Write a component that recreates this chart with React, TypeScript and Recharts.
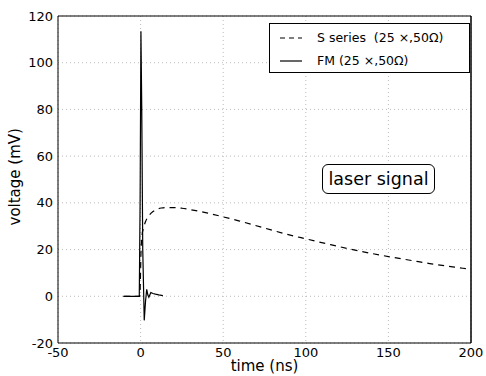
import React from 'react';
import { LineChart, Line, XAxis, YAxis, CartesianGrid, ReferenceLine } from 'recharts';

// time axis in ns, voltage in mV
const sTime = [-10, -0.5, 0.3, 1, 1.5, 3, 5, 7.5, 10, 12.5, 15, 20, 25, 30, 40, 50, 60, 75, 90, 100, 115, 125, 140, 150, 165, 175, 190, 200];
const sVolt = [0, 0, 20, 27, 28.5, 32, 34.5, 36.3, 37.3, 37.8, 38, 38, 37.7, 37.1, 35.7, 34, 32.2, 29.2, 26.3, 24.6, 22.1, 20.5, 18.3, 17, 15.2, 14, 12.5, 11.5];

const fmTime = [-10.5, -0.8, -0.3, 0.2, 0.7, 1.3, 2.2, 3, 3.7, 4.4, 5, 6.2, 7.5, 9, 11, 13.5];
const fmVolt = [0, 0, 40, 113.5, 80, 20, -10.3, -2, 3, 0.5, -0.4, 1.6, 1.2, 0.9, 0.6, 0.3];

const xTicks = [-50, 0, 50, 100, 150, 200];
const yTicks = [-20, 0, 20, 40, 60, 80, 100, 120];

const seriesLabels = ['S series  (25 \u00d7,50\u03a9)', 'FM (25 \u00d7,50\u03a9)'];
const noteText = 'laser signal';

const sData = sTime.map((t, i) => ({ t, v: sVolt[i] }));
const fmData = fmTime.map((t, i) => ({ t, v: fmVolt[i] }));

const font = '"DejaVu Sans", sans-serif';

function LegendBox() {
  return (
    <div style={{ position: 'absolute', left: 269, top: 23, border: '1.2px solid #000', background: '#fff', width: 201, height: 50, boxSizing: 'border-box', fontFamily: font, fontSize: 12.5, color: '#000', padding: '2px 0 0 10px' }}>
      {seriesLabels.map((label, i) => (
        <div key={label} style={{ display: 'flex', alignItems: 'center', height: 23 }}>
          <svg width={22} height={10} style={{ marginRight: 15 }}>
            <line x1={0} y1={5} x2={22} y2={5} stroke="#000" strokeWidth={1.2} strokeDasharray={i === 0 ? '5 4' : undefined} />
          </svg>
          <span style={{ whiteSpace: 'pre' }}>{label}</span>
        </div>
      ))}
    </div>
  );
}

export default function App() {
  return (
    <div style={{ position: 'absolute', left: 0, top: 0, width: 486, height: 376, background: '#fff' }}>
      <LineChart width={486} height={376} margin={{ top: 16, right: 15, bottom: 0, left: 0 }}>
        <CartesianGrid stroke="#bbb" strokeDasharray="1 3" />
        <XAxis
          type="number"
          dataKey="t"
          domain={[-50, 200]}
          ticks={xTicks}
          height={33}
          allowDataOverflow
          stroke="#000"
          tickLine={false}
          tickSize={4}
          tick={{ fill: '#000', fontSize: 13, fontFamily: font }}
          tickMargin={1}
          label={{ value: 'time (ns)', position: 'insideBottom', offset: 0, dy: -5, fill: '#000', fontSize: 15, fontFamily: font }}
        />
        <YAxis
          type="number"
          domain={[-20, 120]}
          ticks={yTicks}
          width={58}
          allowDataOverflow
          stroke="#000"
          tickLine={false}
          tickSize={5}
          tick={{ fill: '#000', fontSize: 13, fontFamily: font }}
          tickMargin={0}
          label={{ value: 'voltage (mV)', angle: -90, position: 'insideLeft', dx: 10, dy: 46, fill: '#000', fontSize: 15, fontFamily: font }}
        />
        <ReferenceLine x={200} stroke="#000" strokeWidth={1.5} />
        <ReferenceLine y={120} stroke="#000" />
        <Line data={sData} dataKey="v" type="monotone" stroke="#000" strokeWidth={1.2} strokeDasharray="6 5" dot={false} isAnimationActive={false} />
        <Line data={fmData} dataKey="v" type="linear" stroke="#000" strokeWidth={1.2} dot={false} isAnimationActive={false} />
      </LineChart>
      <LegendBox />
      <div style={{ position: 'absolute', left: 322, top: 164, width: 113, height: 30, boxSizing: 'border-box', border: '1.2px solid #000', borderRadius: 6, fontFamily: font, fontSize: 17.5, color: '#000', display: 'flex', alignItems: 'center', justifyContent: 'center', background: '#fff' }}>
        {noteText}
      </div>
    </div>
  );
}
